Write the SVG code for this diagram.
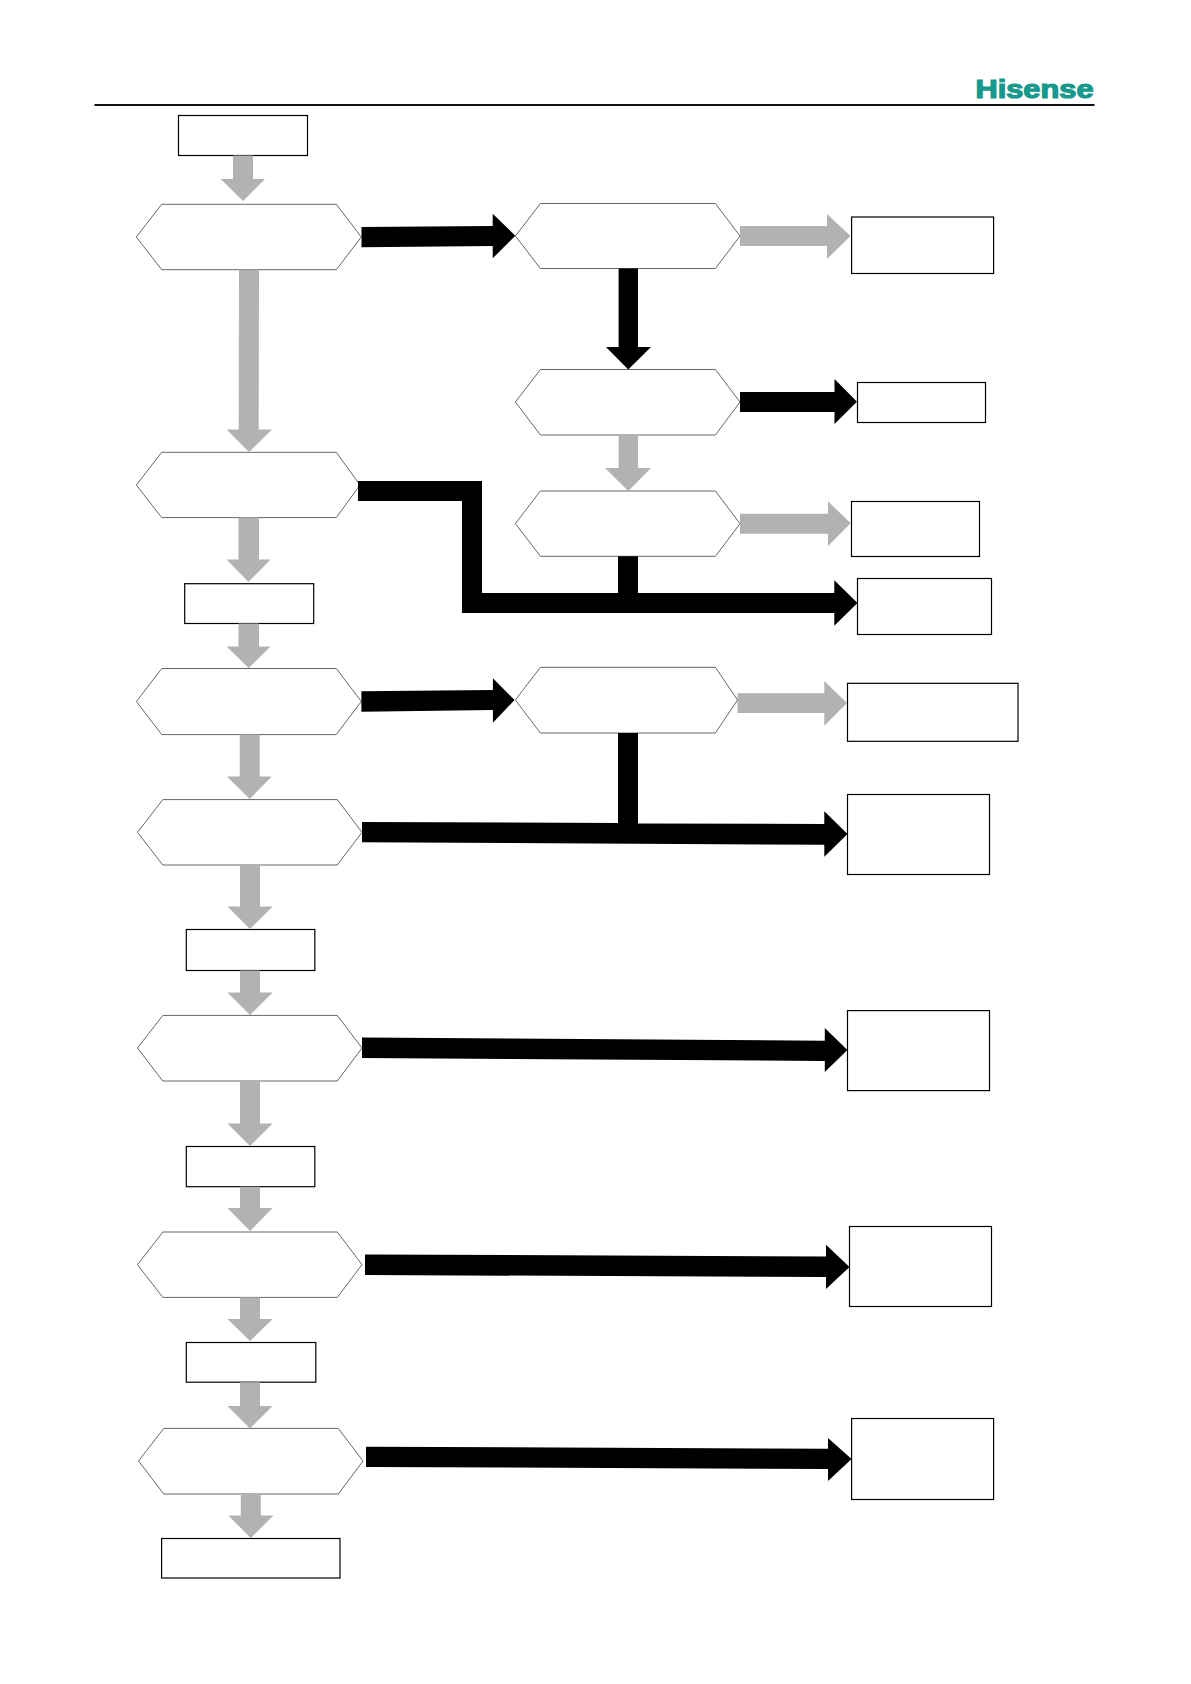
<svg xmlns="http://www.w3.org/2000/svg" width="1191" height="1684" viewBox="0 0 1191 1684">
<style>
.hex{fill:#fff;stroke:#666;stroke-width:1}
.box{fill:#fff;stroke:#000;stroke-width:1.2}
.g{fill:#b2b2b2}
.k{fill:#000}
.logo{font-family:"Liberation Sans",Arial,sans-serif;font-weight:700;font-size:25px;fill:#17988c;stroke:#17988c;stroke-width:1.2}
</style>
<rect width="1191" height="1684" fill="#fff"/>
<g id="header">
<rect x="94.5" y="104" width="1000" height="2" fill="#111"/>
<text class="logo" x="975.5" y="98" textLength="118" lengthAdjust="spacingAndGlyphs">Hisense</text>
</g>
<g id="n1"><rect class="box" x="178.5" y="115.5" width="129" height="40"/></g>
<g id="h1"><polygon class="hex" points="136.3,237 161.7,204.3 336.3,204.3 361.3,237 336.3,269.7 161.7,269.7"/></g>
<g id="h2"><polygon class="hex" points="515.4,236 540.4,203.5 715.4,203.5 740,236 715.4,268.5 540.4,268.5"/></g>
<g id="b2"><rect class="box" x="851.6" y="217" width="142" height="56.5"/></g>
<g id="h3"><polygon class="hex" points="515.4,402 540.4,369.5 715.4,369.5 740,402 715.4,435 540.4,435"/></g>
<g id="b3"><rect class="box" x="857.5" y="382.5" width="128" height="40"/></g>
<g id="h4"><polygon class="hex" points="515.4,523.6 540.4,491 715.4,491 740,523.6 715.4,556.3 540.4,556.3"/></g>
<g id="b4"><rect class="box" x="851.5" y="501.5" width="128" height="55"/></g>
<g id="b5"><rect class="box" x="857.5" y="578.5" width="134" height="56"/></g>
<g id="h5"><polygon class="hex" points="136.4,485 161.7,452.3 336.3,452.3 360,485 336.3,517.6 161.7,517.6"/></g>
<g id="n6"><rect class="box" x="184.7" y="583.7" width="129" height="39.8"/></g>
<g id="h6"><polygon class="hex" points="136.4,701.5 161.7,668.5 336.3,668.5 361.3,701.5 336.3,734.6 161.7,734.6"/></g>
<g id="h7"><polygon class="hex" points="515.4,700 540.4,667.3 715.4,667.3 737.5,700 715.4,733 540.4,733"/></g>
<g id="b7"><rect class="box" x="847.5" y="683.3" width="170.5" height="58"/></g>
<g id="h8"><polygon class="hex" points="137.5,832.3 162.8,799.6 337.3,799.6 362,832.3 337.3,865 162.8,865"/></g>
<g id="b8"><rect class="box" x="847.5" y="794.5" width="142" height="80"/></g>
<g id="n9"><rect class="box" x="186.3" y="929.5" width="128.5" height="41"/></g>
<g id="h9"><polygon class="hex" points="137.5,1048 162.8,1015.4 337.3,1015.4 362,1048 337.3,1081 162.8,1081"/></g>
<g id="b9"><rect class="box" x="847.5" y="1010.6" width="142" height="80"/></g>
<g id="n10"><rect class="box" x="186.3" y="1146.5" width="128.5" height="40.2"/></g>
<g id="h10"><polygon class="hex" points="137.5,1264.7 162.8,1232 337.3,1232 362,1264.7 337.3,1297.4 162.8,1297.4"/></g>
<g id="b10"><rect class="box" x="849.5" y="1226.5" width="142" height="80"/></g>
<g id="n11"><rect class="box" x="186.3" y="1342.5" width="129.5" height="39.7"/></g>
<g id="h11"><polygon class="hex" points="138.5,1461 163.8,1428.4 338.3,1428.4 363,1461 338.3,1494 163.8,1494"/></g>
<g id="b11"><rect class="box" x="851.6" y="1418.5" width="142" height="81"/></g>
<g id="n12"><rect class="box" x="161.6" y="1538.5" width="178.4" height="39.5"/></g>
<g id="connectors">
<polygon class="g" points="233,155.5 253,155.5 253,179 265,179 243,201 220.7,179 233,179"/>
<polygon class="k" points="361.5,227 492.7,226 492.7,213.7 515.3,235.7 492.7,258.3 492.7,246 361.5,247.3"/>
<polygon class="g" points="239,269.7 259,269.7 258.7,429.6 272,429.6 249,452 226.6,429.6 238.7,429.6"/>
<polygon class="g" points="740,226 827,226 827,214 850.5,236 827,259 827,246 740,246"/>
<polygon class="k" points="618.6,268.5 638,268.5 638,347 651,347 628.3,369.5 606,347 618.6,347"/>
<polygon class="k" points="740,392 834.5,392 834.5,379 857,401.7 834.5,424 834.5,412 740,412"/>
<polygon class="g" points="618.6,435 638,435 638,468 651,468 628.3,491 605,468 618.6,468"/>
<polygon class="g" points="740,513.7 828,513.7 828,501.3 850.7,523.3 828,546 828,533.7 740,533.7"/>
<polygon class="k" points="358,481 482,481 482,593 618,593 618,556.3 638,556.3 638,593 834.3,593 834.3,580.3 857.5,603 834.3,625.7 834.3,613 462,613 462,501 358,501"/>
<polygon class="g" points="238.5,517.6 259,517.6 259,559.5 270.6,559.5 248.5,582 226.6,559.5 238.5,559.5"/>
<polygon class="g" points="238.5,623.5 259,623.5 259,646.5 270.6,646.5 248.7,668 226.6,646.5 238.5,646.5"/>
<polygon class="k" points="361.4,691.3 492.9,690 492.9,678.3 514.6,700 492.9,722.7 492.9,710 361.4,711.7"/>
<polygon class="g" points="737.5,693.3 824.3,693.3 824.3,681 847,703 824.3,725.7 824.3,713 737.5,713"/>
<polygon class="g" points="239.7,734.6 259.7,734.6 259.7,776.5 271.7,776.5 249.7,799 227,776.5 239.7,776.5"/>
<polygon class="k" points="362,822 618,823 618,733 638,733 638,823.5 824.3,824 824.3,811.3 847.5,834 824.3,856.7 824.3,844.7 362,842.3"/>
<polygon class="g" points="240,865 260,865 260,906.5 272.7,906.5 250,929 227.5,906.5 240,906.5"/>
<polygon class="g" points="240,970.5 260,970.5 260,992.4 272.7,992.4 250,1015 227.5,992.4 240,992.4"/>
<polygon class="k" points="362,1037.5 824.8,1040.7 824.8,1028 847.4,1050 824.8,1072 824.8,1061 362,1058"/>
<polygon class="g" points="240,1081 260,1081 260,1123.4 272.7,1123.4 250,1146 227.5,1123.4 240,1123.4"/>
<polygon class="g" points="240,1186.7 260,1186.7 260,1208 272.7,1208 250,1231 227.5,1208 240,1208"/>
<polygon class="k" points="365,1254.4 826,1256.6 826,1244.7 849.5,1267 826,1289 826,1277 365,1275"/>
<polygon class="g" points="240,1297.4 260,1297.4 260,1319 272.7,1319 250,1341 227.5,1319 240,1319"/>
<polygon class="g" points="240,1382.2 260,1382.2 260,1406 272.7,1406 250,1428.4 227.5,1406 240,1406"/>
<polygon class="k" points="366,1446.7 828,1448.8 828,1438 851.6,1459 828,1481 828,1469 366,1467"/>
<polygon class="g" points="240.8,1494 260.8,1494 260.8,1515.5 273.5,1515.5 250.8,1538 228.3,1515.5 240.8,1515.5"/>
</g>
</svg>
